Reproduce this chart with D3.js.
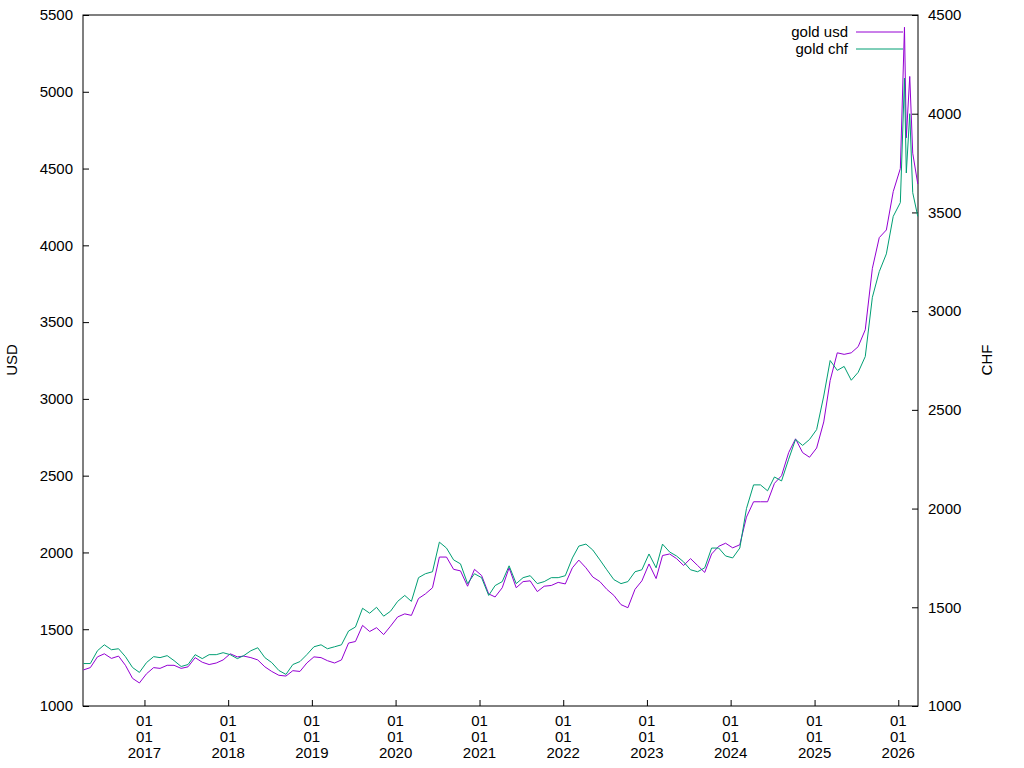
<!DOCTYPE html>
<html><head><meta charset="utf-8">
<script src="https://cdn.jsdelivr.net/npm/d3@7"></script>
<style>body{margin:0;background:#fff}text{font-family:"Liberation Sans",Arial,sans-serif;font-size:15px}</style>
</head><body><svg id="chart" width="1024" height="768"></svg>
<script>
// monthly readings, Apr 2016 .. Dec 2025, then a few points in 2026
var usd = [1235,1250,1320,1340,1310,1325,1265,1180,1150,
  1210,1250,1245,1265,1265,1245,1255,1315,1285,1270,1280,1300,
  1340,1320,1325,1315,1300,1255,1225,1200,1195,1230,1225,1280,
  1320,1315,1295,1280,1300,1410,1420,1525,1485,1510,1465,1520,
  1580,1600,1590,1700,1730,1770,1970,1970,1890,1880,1780,1890,
  1850,1730,1710,1770,1900,1770,1810,1815,1745,1780,1785,1805,
  1795,1900,1950,1900,1840,1810,1760,1720,1660,1640,1760,1815,
  1925,1830,1980,1990,1960,1915,1960,1915,1870,1990,2040,2060,
  2030,2050,2230,2330,2330,2330,2450,2500,2650,2740,2650,2620,
  2680,2850,3120,3300,3290,3300,3340,3450,3850,4050,4100,4350];
var chf = [1215,1215,1280,1310,1285,1290,1250,1195,1170,
  1220,1250,1245,1255,1230,1200,1210,1260,1240,1260,1260,1270,
  1260,1240,1255,1280,1295,1245,1220,1180,1160,1210,1225,1260,
  1300,1310,1290,1300,1310,1380,1400,1495,1470,1500,1455,1480,
  1530,1560,1530,1650,1670,1680,1830,1800,1740,1720,1620,1670,
  1650,1560,1610,1630,1710,1620,1650,1660,1620,1630,1650,1650,
  1660,1750,1810,1820,1790,1740,1690,1640,1620,1630,1680,1690,
  1770,1700,1820,1780,1760,1730,1690,1680,1700,1800,1800,1760,
  1750,1800,2000,2120,2120,2090,2160,2140,2250,2350,2320,2350,
  2400,2570,2750,2700,2720,2650,2690,2770,3070,3200,3290,3480];
var tailDates = ["2026-01-10","2026-01-28","2026-02-05","2026-02-20","2026-03-05","2026-03-27"];
var tailUsd = [4500,5420,4700,5100,4600,4400];
var tailChf = [3550,4180,3700,4000,3600,3480];
var yearTicks = [2017,2018,2019,2020,2021,2022,2023,2024,2025,2026];

var parse = d3.timeParse("%Y-%m-%d");
var dates = d3.timeMonth.range(new Date(2016,3,1), new Date(2026,0,1)).map(function(d){ return d3.timeDay.offset(d,9); });
var rows = dates.map(function(d,i){ return {date:d, usd:usd[i], chf:chf[i]}; });
tailDates.forEach(function(s,i){ rows.push({date:parse(s), usd:tailUsd[i], chf:tailChf[i]}); });

var L=83, R=918, T=15, B=706;
var svg = d3.select('#chart');
var x = d3.scaleTime().domain([new Date(2016,3,8), new Date(2026,2,28)]).range([L,R]);
var yL = d3.scaleLinear().domain([1000,5500]).range([B,T]);
var yR = d3.scaleLinear().domain([1000,4500]).range([B,T]);

svg.append('rect').attr('x',L).attr('y',T).attr('width',R-L).attr('height',B-T)
  .attr('fill','none').attr('stroke','#000');

var gl = svg.append('g').attr('transform','translate('+L+',0)')
  .call(d3.axisLeft(yL).tickValues(d3.range(1000,5501,500)).tickFormat(d3.format('d')).tickSizeInner(-6).tickSizeOuter(0).tickPadding(10));
var gr = svg.append('g').attr('transform','translate('+R+',0)')
  .call(d3.axisRight(yR).tickValues(d3.range(1000,4501,500)).tickFormat(d3.format('d')).tickSizeInner(-6).tickSizeOuter(0).tickPadding(10));
var gx = svg.append('g').attr('transform','translate(0,'+B+')')
  .call(d3.axisBottom(x).tickValues(yearTicks.map(function(y){return new Date(y,0,1);})).tickFormat('').tickSizeInner(-6).tickSizeOuter(0));
[gl,gr,gx].forEach(function(g){ g.select('.domain').remove(); g.selectAll('text').style('font-size','15px').attr('fill','#000'); });

yearTicks.forEach(function(y){
  var t = svg.append('text').attr('x',x(new Date(y,0,1))).attr('text-anchor','middle');
  ['01','01',String(y)].forEach(function(s,i){ t.append('tspan').attr('x',x(new Date(y,0,1))).attr('y',726+i*16).text(s); });
});

svg.append('text').attr('transform','translate(17,360) rotate(-90)').attr('text-anchor','middle').text('USD');
svg.append('text').attr('transform','translate(992,360) rotate(-90)').attr('text-anchor','middle').text('CHF');

var lineU = d3.line().x(function(d){return x(d.date);}).y(function(d){return yL(d.usd);});
var lineC = d3.line().x(function(d){return x(d.date);}).y(function(d){return yR(d.chf);});
svg.append('path').datum(rows).attr('d',lineU).attr('fill','none').attr('stroke','#9400d3').attr('stroke-width',1);
svg.append('path').datum(rows).attr('d',lineC).attr('fill','none').attr('stroke','#009e73').attr('stroke-width',1);

[['gold usd','#9400d3',32],['gold chf','#009e73',49]].forEach(function(l){
  svg.append('text').attr('x',848).attr('y',l[2]+5).attr('text-anchor','end').text(l[0]);
  svg.append('line').attr('x1',856).attr('x2',903).attr('y1',l[2]).attr('y2',l[2]).attr('stroke',l[1]);
});
</script></body></html>
